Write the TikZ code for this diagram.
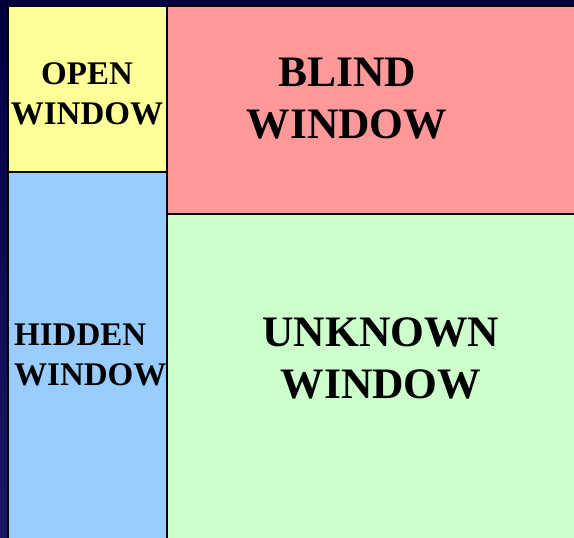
\documentclass[tikz,border=0pt]{standalone}
\usepackage{fontspec}
\setmainfont{Liberation Serif}
\usepackage{tikz}

\definecolor{navytop}{RGB}{0,0,64}
\definecolor{navybot}{RGB}{26,24,102}
\definecolor{openyel}{RGB}{255,255,153}
\definecolor{blindred}{RGB}{255,153,153}
\definecolor{hidblue}{RGB}{153,204,255}
\definecolor{unkgreen}{RGB}{204,255,204}

\begin{document}
\begin{tikzpicture}[
  x=1pt, y=-1pt,
  pane/.style={draw=black, line width=1.3pt},
  small/.style={font=\bfseries\fontsize{33}{40}\selectfont, inner sep=0pt},
  big/.style={font=\bfseries\fontsize{43.5}{52}\selectfont, inner sep=0pt, align=center}
]
% background
\shade[top color=navytop, bottom color=navybot] (0,0) rectangle (574,538);
\useasboundingbox (0,0) rectangle (574,538);
% the four panes
\filldraw[pane, fill=openyel]   (8,6)    rectangle (167,172);
\filldraw[pane, fill=hidblue]   (8,172)  rectangle (167,540);
\filldraw[pane, fill=blindred]  (167,6)  rectangle (576,214);
\filldraw[pane, fill=unkgreen]  (167,214) rectangle (576,540);
% labels
\node[small, align=center] (open) at (87,94) {OPEN\\WINDOW};
\node[big] (blind) at (347,99) {BLIND\\WINDOW};
\node[small, align=left, anchor=west] (hidden) at (14,355) {HIDDEN\\WINDOW};
\node[big] (unknown) at (381,358) {UNKNOWN\\WINDOW};
\end{tikzpicture}
\end{document}
